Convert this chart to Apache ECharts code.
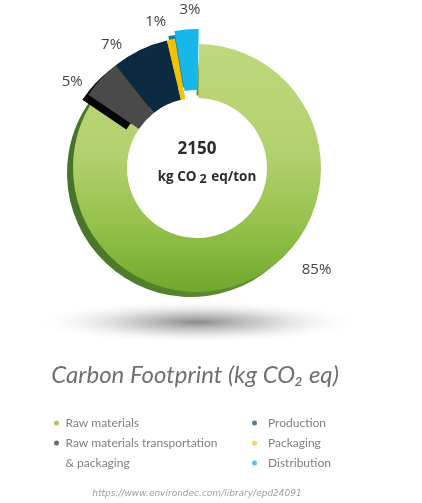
<!DOCTYPE html>
<html><head><meta charset="utf-8">
<script src="https://cdn.jsdelivr.net/npm/echarts@6/dist/echarts.min.js"></script>
<style>html,body{margin:0;padding:0;background:#fff}#c{width:422px;height:503px}</style>
</head><body><div id="c"></div>
<script>
// ---- data ----
const categories = ['Raw materials', 'Raw materials transportation & packaging', 'Production', 'Packaging', 'Distribution'];
const shares = [85, 5, 7, 1, 3];
const totalValue = '2150';
const unitParts = ['kg CO', '2', ' eq/ton'];
const chartTitle = 'Carbon Footprint (kg CO₂ eq)';
const sourceText = 'https://www.environdec.com/library/epd24091';
const legendLeftIdx = [0];
const legendMidIdx = [1];
const legendRightIdx = [2, 3, 4];

// ---- styles ----
const greenTop = {type: 'linear', x: 0, y: 0, x2: 0, y2: 1, colorStops: [
  {offset: 0, color: '#bed87c'}, {offset: 0.45, color: '#b3d06e'},
  {offset: 0.75, color: '#92c049'}, {offset: 1, color: '#70a82d'}]};
const greenDepth = {type: 'linear', x: 0, y: 0, x2: 1, y2: 0, colorStops: [
  {offset: 0, color: '#47722a'}, {offset: 1, color: '#679a31'}]};
const topColors = [greenTop, '#4a4a4a', '#0c2b41', '#f6c100', '#18b7ea'];
const depthColors = [greenDepth, '#050505', '#04131f', '#d69f00', '#127fa6'];
const legendColors = ['#a6cd55', '#6a6a6a', '#5b7b93', '#ffcd69', '#4fc4ef'];
const CX = 197, CY = 168, DX = -6, DY = 5;
const START = 89;
const labelShift = [[36, -21], [-3, 12], [-7, 7], [3, -4], [20, -6]];

const T = 'rgba(0,0,0,0)';
function mk(kind, isDepth) {
  return shares.map((v, i) => {
    const mine = kind === 'ring' ? i === 0 : i > 0;
    return {
      name: categories[i], value: v,
      selected: kind === 'parts' && i === 4,
      itemStyle: {color: mine ? (isDepth ? depthColors[i] : topColors[i]) : T},
      label: {show: mine && !isDepth}
    };
  });
}
function pie(kind, isDepth) {
  const outer = kind === 'ring' ? 124 : 131;
  return {
    type: 'pie', silent: true, animation: false,
    center: isDepth ? [CX + DX, CY + DY] : [CX, CY],
    radius: [isDepth ? 78 : 70, outer],
    startAngle: (kind === 'ring' && isDepth) ? START - 3 : START, clockwise: true,
    avoidLabelOverlap: false,
    selectedMode: kind === 'parts' ? 'multiple' : false,
    selectedOffset: 8,
    emphasis: {disabled: true},
    label: {position: 'outside', formatter: '{c}%', fontFamily: 'Open Sans', fontSize: 15, color: '#444'},
    labelLine: {show: false, length: 14, length2: 0},
    labelLayout: p => ({dx: labelShift[p.dataIndex][0], dy: labelShift[p.dataIndex][1]}),
    data: mk(kind, isDepth)
  };
}
function legendData(idx) {
  return idx.map(i => ({name: categories[i], itemStyle: {color: legendColors[i]}}));
}
const legendText = {fontFamily: 'Lato', fontSize: 12, color: '#808080', lineHeight: 20};
const chart = echarts.init(document.getElementById('c'), null, {renderer: 'canvas'});
chart.setOption({
  animation: false,
  legend: [
    {orient: 'vertical', left: 54, top: 413, padding: 0, itemWidth: 8, itemHeight: 5, itemGap: 0, icon: 'circle',
     selectedMode: false, textStyle: legendText, data: legendData(legendLeftIdx)},
    {orient: 'vertical', left: 54, top: 413, padding: 0, itemWidth: 8, itemHeight: 5, itemGap: 0, icon: 'circle',
     selectedMode: false, textStyle: legendText, data: legendData(legendMidIdx),
     formatter: n => '\n' + n.replace(' & ', '\n& ')},
    {orient: 'vertical', left: 252, top: 413, padding: 0, itemWidth: 17, itemHeight: 5, itemGap: 0, icon: 'circle',
     selectedMode: false, textStyle: legendText, data: legendData(legendRightIdx)}
  ],
  graphic: [
    {type: 'circle', z: -1, x: 197, y: 322, scaleX: 7.5, scaleY: 1, shape: {cx: 0, cy: 0, r: 22},
     style: {fill: {type: 'radial', x: 0.5, y: 0.5, r: 0.5, colorStops: [
       {offset: 0, color: 'rgba(125,125,125,0.9)'}, {offset: 0.4, color: 'rgba(165,165,165,0.55)'},
       {offset: 1, color: 'rgba(255,255,255,0)'}]}}},
    {type: 'text', x: 197, y: 149, style: {text: totalValue, align: 'center', verticalAlign: 'middle',
      font: 'bold 17px "Open Sans"', fill: '#2b2b2b'}},
    {type: 'text', x: 207, y: 177, style: {
      text: '{a|' + unitParts[0] + '}{s|' + unitParts[1] + '}{a|' + unitParts[2] + '}',
      align: 'center', verticalAlign: 'middle',
      rich: {a: {font: 'bold 13.5px "Open Sans"', fill: '#2b2b2b'},
             s: {font: 'bold 12.5px "Open Sans"', fill: '#2b2b2b', padding: [4, 1, 0, 3]}}}},
    {type: 'text', x: 195, y: 375, style: {text: chartTitle, align: 'center', verticalAlign: 'middle',
      font: 'italic 24px Lato', fill: '#707070'}},
    {type: 'text', x: 197, y: 494, style: {text: sourceText, align: 'center', verticalAlign: 'middle',
      font: 'italic 9px "DejaVu Sans"', fill: '#a0a0a0'}}
  ],
  series: [pie('ring', true), pie('ring', false), pie('parts', true), pie('parts', false)]
});
</script></body></html>
